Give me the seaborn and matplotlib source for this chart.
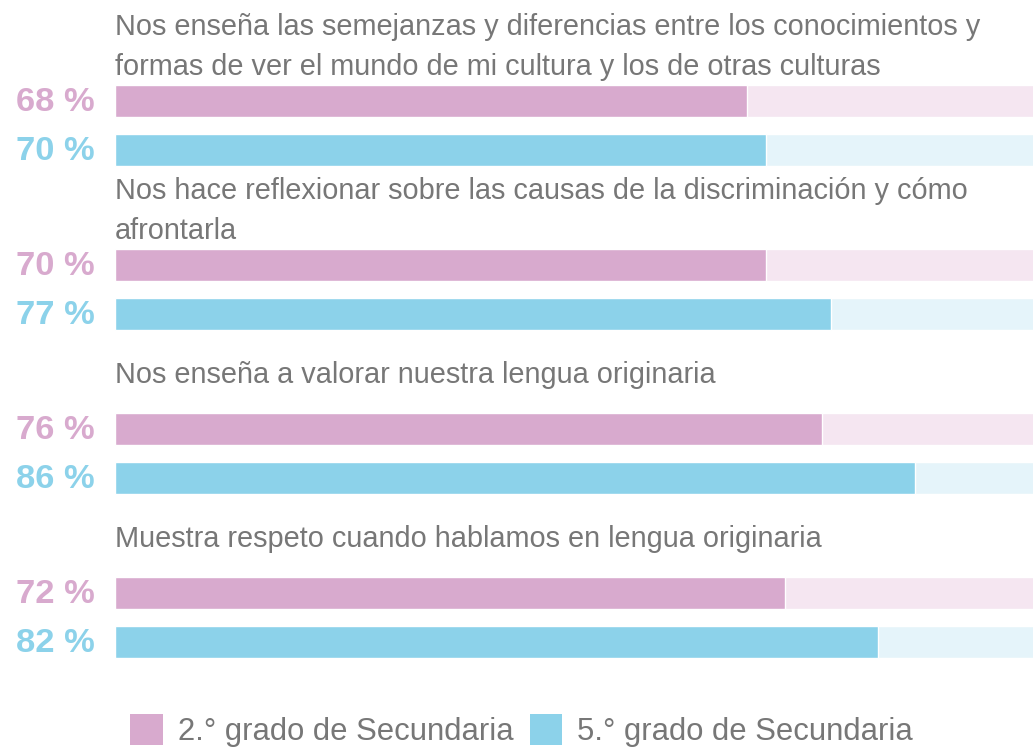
import matplotlib
matplotlib.use("Agg")
import matplotlib.pyplot as plt
from matplotlib.patches import Patch
import seaborn as sns
import pandas as pd

preguntas = [
    "Nos enseña las semejanzas y diferencias entre los conocimientos y\nformas de ver el mundo de mi cultura y los de otras culturas",
    "Nos hace reflexionar sobre las causas de la discriminación y cómo\nafrontarla",
    "Nos enseña a valorar nuestra lengua originaria",
    "Muestra respeto cuando hablamos en lengua originaria",
]
grados = ["2.° grado de Secundaria", "5.° grado de Secundaria"]
segundo = [68, 70, 76, 72]
quinto = [70, 77, 86, 82]

col_fuerte = ["#D8AACE", "#8CD2EA"]
col_suave = ["#F5E6F1", "#E5F4FA"]
gris = "#777777"

df = pd.DataFrame({
    "pregunta": preguntas * 2,
    "grado": [grados[0]] * 4 + [grados[1]] * 4,
    "valor": segundo + quinto,
})
df["total"] = 100

sns.set_theme(style="white")
plt.rcParams["font.family"] = ["Liberation Sans", "DejaVu Sans"]

fig = plt.figure(figsize=(10.33, 7.48), dpi=100)
ax = fig.add_axes([115 / 1033, 48.5 / 748, 930 / 1033, 656 / 748])

# fondo al 100 % y encima el valor
sns.barplot(data=df, y="pregunta", x="total", hue="grado", palette=col_suave,
            width=0.6, gap=0.35, orient="h", ax=ax, legend=False, saturation=1)
sns.barplot(data=df, y="pregunta", x="valor", hue="grado", palette=col_fuerte,
            width=0.6, gap=0.35, orient="h", ax=ax, legend=False, saturation=1)

ax.set_xlim(0, 100)
ax.set_ylim(3.5, -0.5)
ax.set_xlabel("")
ax.set_ylabel("")
ax.set_xticks([])
ax.set_yticks([])
sns.despine(ax=ax, left=True, bottom=True)

for i, p in enumerate(preguntas):
    ax.text(0, i - 0.477, p, ha="left", va="center", fontsize=20.8,
            color=gris, linespacing=1.55, clip_on=False)
    ax.text(-2.2, i - 0.14, f"{segundo[i]} %", ha="right", va="center",
            fontsize=24.8, fontweight="bold", color=col_fuerte[0], clip_on=False)
    ax.text(-2.2, i + 0.16, f"{quinto[i]} %", ha="right", va="center",
            fontsize=24.8, fontweight="bold", color=col_fuerte[1], clip_on=False)

handles = [Patch(facecolor=c, edgecolor="none") for c in col_fuerte]
fig.legend(handles, grados, loc="lower center", bbox_to_anchor=(0.505, -0.036),
           ncol=2, frameon=False, fontsize=22.3, labelcolor=gris,
           handlelength=1.06, handleheight=1.13, handletextpad=0.48,
           columnspacing=0.52)

fig.savefig("out.png", dpi=100)
